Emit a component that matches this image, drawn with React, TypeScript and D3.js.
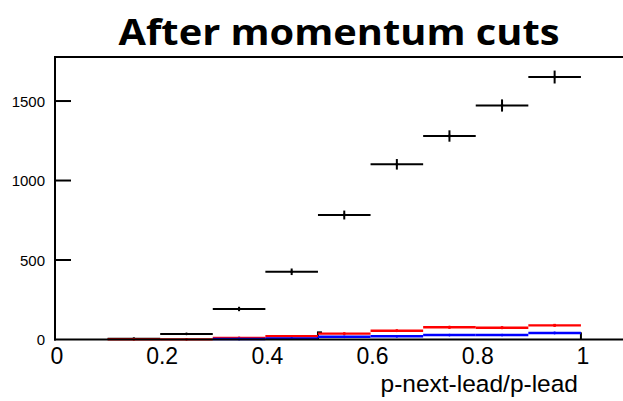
import React from "react";
import * as d3 from "d3";

// Bin lower edges (bin width 0.1)
const binLow = [0.1, 0.2, 0.3, 0.4, 0.5, 0.6, 0.7, 0.8, 0.9];
const binWidth = 0.1;

// Entries per bin (null = empty bin, not drawn)
const allEvents = [5, 35, 192, 426, 783, 1102, 1280, 1472, 1651];
const redEvents = [1, 1, 10, 20, 37, 55, 77, 74, 89];
const blueEvents: (number | null)[] = [null, null, 3, 6, 17, 20, 28, 28, 41];

// Coarse outline histogram (single wide bin)
const outlineLow = [0.5];
const outlineWidth = 0.5;
const outlineValues = [45];

const xTicks = [0, 0.2, 0.4, 0.6, 0.8, 1];
const yTicks = [0, 500, 1000, 1500];

const W = 623;
const H = 401;

export default function App() {
  const x = d3.scaleLinear().domain([0, 1.08]).range([55, 623]);
  const y = d3.scaleLinear().domain([0, 1777]).range([339.5, 57]);

  const series = (vals: (number | null)[], color: string, width: number, key: string) =>
    vals.map((v, i) => {
      if (v === null) return null;
      const x0 = x(binLow[i]);
      const x1 = x(binLow[i] + binWidth);
      const xc = x(binLow[i] + binWidth / 2);
      const e = Math.sqrt(v);
      return (
        <g key={`${key}-${i}`}>
          <line x1={x0} x2={x1} y1={y(v)} y2={y(v)} stroke={color} strokeWidth={width} />
          {v > 0 && (
            <line x1={xc} x2={xc} y1={y(v + e)} y2={y(Math.max(0, v - e))} stroke={color} strokeWidth={width} />
          )}
          <circle cx={xc} cy={y(v)} r={1.4} fill={color} />
        </g>
      );
    });

  return (
    <svg
      width={W}
      height={H}
      style={{ position: "absolute", left: 0, top: 0, background: "#fff" }}
    >
      <text
        x={339}
        y={44.5}
        textAnchor="middle"
        fontFamily="'Open Sans', Lato, sans-serif"
        fontWeight={700}
        fontSize={36}
        textLength={441}
        lengthAdjust="spacingAndGlyphs"
        fill="#000"
      >
        After momentum cuts
      </text>

      {/* frame */}
      <line x1={x(0)} x2={W} y1={57} y2={57} stroke="#000" strokeWidth={2} />
      <line x1={x(0)} x2={x(0)} y1={56} y2={y(0) + 1} stroke="#000" strokeWidth={2} />

      {/* y ticks */}
      {yTicks.map((t) => (
        <g key={`yt-${t}`}>
          {t > 0 && <line x1={x(0)} x2={x(0) + 16} y1={y(t)} y2={y(t)} stroke="#000" strokeWidth={2} />}
          <text
            x={45}
            y={y(t) + 5.5}
            textAnchor="end"
            fontFamily="'Liberation Sans', Arial, sans-serif"
            fontSize={15}
            fill="#000"
          >
            {t}
          </text>
        </g>
      ))}

      {/* outline histogram edges */}
      {outlineValues.map((v, i) => (
        <g key={`ol-${i}`}>
          <line x1={x(outlineLow[i])} x2={x(outlineLow[i])} y1={y(0)} y2={y(v)} stroke="#000" strokeWidth={2} />
          <line
            x1={x(outlineLow[i] + outlineWidth)}
            x2={x(outlineLow[i] + outlineWidth)}
            y1={y(0)}
            y2={y(v)}
            stroke="#000"
            strokeWidth={2}
          />
          <line x1={x(outlineLow[i]) - 1} x2={x(outlineLow[i]) + 4} y1={y(v)} y2={y(v)} stroke="#000" strokeWidth={2} />
        </g>
      ))}

      {series(allEvents, "#000", 2, "all")}
      {series(redEvents, "#f00", 2.4, "red")}
      {series(blueEvents, "#00f", 2.4, "blue")}

      {/* x axis */}
      <line x1={x(0) - 1} x2={W} y1={y(0)} y2={y(0)} stroke="#000" strokeWidth={2.2} />
      {xTicks.map((t) => (
        <text
          key={`xt-${t}`}
          x={x(t) + 2}
          y={364}
          textAnchor="middle"
          fontFamily="'Liberation Sans', Arial, sans-serif"
          fontSize={23}
          fill="#000"
        >
          {t}
        </text>
      ))}
      <text
        x={578}
        y={392}
        textAnchor="end"
        fontFamily="'Liberation Sans', Arial, sans-serif"
        fontSize={24.5}
        fill="#000"
      >
        p-next-lead/p-lead
      </text>
    </svg>
  );
}
